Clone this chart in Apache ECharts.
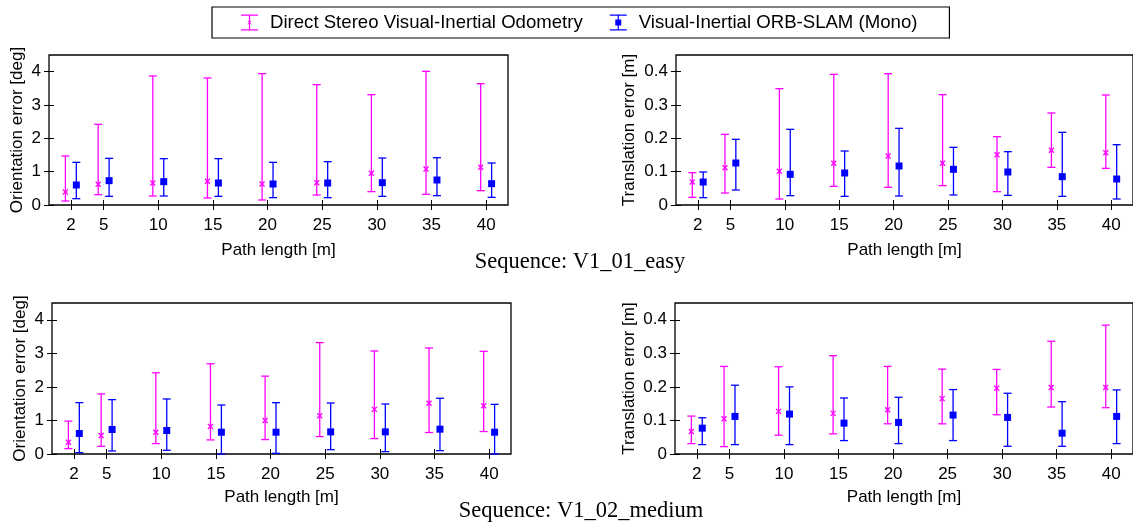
<!DOCTYPE html>
<html>
<head>
<meta charset="utf-8">
<script src="https://cdn.jsdelivr.net/npm/echarts@6/dist/echarts.min.js"></script>
<style>
  html, body { margin: 0; padding: 0; background: #fff; }
  #chart { width: 1133px; height: 522px; }
</style>
</head>
<body>
<div id="chart"></div>
<script>
// path length categories [m]
const pathLengths = [2, 5, 10, 15, 20, 25, 30, 35, 40]
const oriTicks = [0, 1, 2, 3, 4]
const transTicks = [0, 0.1, 0.2, 0.3, 0.4]

// [low, mid, high] per path length
// V1_01_easy, orientation [deg]
const oriEasyDsvio = [[0.12, 0.39, 1.47], [0.31, 0.62, 2.42], [0.27, 0.66, 3.87], [0.21, 0.71, 3.81], [0.15, 0.63, 3.94], [0.30, 0.67, 3.61], [0.40, 0.95, 3.31], [0.32, 1.08, 4.01], [0.43, 1.13, 3.64]]
const oriEasyOrb = [[0.19, 0.60, 1.28], [0.26, 0.73, 1.40], [0.27, 0.70, 1.39], [0.26, 0.66, 1.39], [0.22, 0.63, 1.28], [0.22, 0.66, 1.30], [0.26, 0.67, 1.41], [0.28, 0.75, 1.42], [0.23, 0.64, 1.26]]
// V1_01_easy, translation [m]
const transEasyDsvio = [[0.023, 0.069, 0.097], [0.036, 0.112, 0.212], [0.018, 0.101, 0.349], [0.056, 0.125, 0.392], [0.053, 0.147, 0.394], [0.058, 0.125, 0.331], [0.040, 0.151, 0.205], [0.113, 0.164, 0.276], [0.110, 0.157, 0.330]]
const transEasyOrb = [[0.022, 0.069, 0.099], [0.045, 0.126, 0.197], [0.028, 0.092, 0.227], [0.026, 0.096, 0.162], [0.027, 0.117, 0.230], [0.030, 0.107, 0.173], [0.029, 0.099, 0.160], [0.026, 0.085, 0.218], [0.018, 0.078, 0.181]]
// V1_02_medium, orientation [deg]
const oriMedDsvio = [[0.16, 0.35, 0.98], [0.23, 0.55, 1.79], [0.31, 0.65, 2.42], [0.42, 0.82, 2.69], [0.43, 1.00, 2.32], [0.52, 1.14, 3.32], [0.46, 1.33, 3.07], [0.64, 1.51, 3.16], [0.67, 1.44, 3.06]]
const oriMedOrb = [[0.04, 0.61, 1.53], [0.09, 0.73, 1.62], [0.11, 0.70, 1.64], [0.0, 0.65, 1.46], [0.02, 0.65, 1.53], [0.13, 0.66, 1.52], [0.07, 0.66, 1.49], [0.10, 0.74, 1.66], [0.0, 0.65, 1.48]]
// V1_02_medium, translation [m]
const transMedDsvio = [[0.031, 0.067, 0.113], [0.022, 0.105, 0.261], [0.056, 0.127, 0.260], [0.060, 0.121, 0.293], [0.090, 0.132, 0.261], [0.090, 0.165, 0.253], [0.117, 0.196, 0.252], [0.140, 0.198, 0.336], [0.138, 0.198, 0.384]]
const transMedOrb = [[0.028, 0.077, 0.108], [0.028, 0.112, 0.205], [0.028, 0.119, 0.200], [0.040, 0.092, 0.167], [0.031, 0.094, 0.169], [0.040, 0.116, 0.192], [0.023, 0.109, 0.181], [0.023, 0.062, 0.156], [0.031, 0.112, 0.191]]

const nameDsvio = 'Direct Stereo Visual-Inertial Odometry'
const nameOrb = 'Visual-Inertial ORB-SLAM (Mono)'
const magenta = '#ff00ff'
const blue = '#0000ff'
const sans = 'Liberation Sans, Arial, sans-serif'

// 四个子图的位置
const grids = [
  { left: 49, top: 55, width: 459, height: 150 },
  { left: 676, top: 55, width: 458, height: 150 },
  { left: 52, top: 303, width: 459, height: 151 },
  { left: 675, top: 303, width: 459, height: 151 }
]
const yNames = ['Orientation error [deg]', 'Translation error [m]', 'Orientation error [deg]', 'Translation error [m]']
const yNameGaps = [23, 38, 23, 37]
const yMax = [4.5, 0.45, 4.5, 0.45]
const yTickSets = [oriTicks, transTicks, oriTicks, transTicks]
const panels = [
  [oriEasyDsvio, oriEasyOrb],
  [transEasyDsvio, transEasyOrb],
  [oriMedDsvio, oriMedOrb],
  [transMedDsvio, transMedOrb]
]

function toRows(triples) {
  return triples.map((t, i) => [pathLengths[i], t[0], t[1], t[2]])
}

// 误差棒
function errorBar(offset, marker, color) {
  return function (params, api) {
    const x = api.value(0) + offset
    const lo = api.coord([x, api.value(1)])
    const mid = api.coord([x, api.value(2)])
    const hi = api.coord([x, api.value(3)])
    const w = 4
    const ls = { stroke: color, lineWidth: 1.3 }
    const children = [
      { type: 'line', shape: { x1: lo[0], y1: lo[1], x2: hi[0], y2: hi[1] }, style: ls },
      { type: 'line', shape: { x1: lo[0] - w, y1: lo[1], x2: lo[0] + w, y2: lo[1] }, style: ls },
      { type: 'line', shape: { x1: hi[0] - w, y1: hi[1], x2: hi[0] + w, y2: hi[1] }, style: ls }
    ]
    if (marker === 'square') {
      children.push({ type: 'rect', shape: { x: mid[0] - 3.5, y: mid[1] - 3.5, width: 7, height: 7 }, style: { fill: color } })
    } else {
      const s = 2.5
      children.push({ type: 'line', shape: { x1: mid[0] - s, y1: mid[1] - s, x2: mid[0] + s, y2: mid[1] + s }, style: ls })
      children.push({ type: 'line', shape: { x1: mid[0] - s, y1: mid[1] + s, x2: mid[0] + s, y2: mid[1] - s }, style: ls })
    }
    return { type: 'group', children: children }
  }
}

const tickStyle = { show: true, inside: true, length: 5, lineStyle: { color: '#000', width: 1 } }

const xAxes = []
const yAxes = []
const series = []
grids.forEach((g, i) => {
  xAxes.push({
    type: 'value', gridIndex: i, min: 0, max: 42, position: 'bottom',
    name: 'Path length [m]', nameLocation: 'middle', nameGap: i < 2 ? 37 : 35,
    nameTextStyle: { fontFamily: sans, fontSize: 17, color: '#000' },
    axisLine: { show: false },
    axisTick: Object.assign({ customValues: pathLengths }, tickStyle),
    axisLabel: { customValues: pathLengths, fontFamily: sans, fontSize: 17, color: '#000', margin: 12 },
    splitLine: { show: false }
  })
  yAxes.push({
    type: 'value', gridIndex: i, min: 0, max: yMax[i], position: 'left',
    name: yNames[i], nameLocation: 'middle', nameGap: yNameGaps[i],
    nameTextStyle: { fontFamily: sans, fontSize: 17, color: '#000' },
    axisLine: { show: false },
    axisTick: Object.assign({ customValues: yTickSets[i] }, tickStyle),
    axisLabel: { customValues: yTickSets[i], fontFamily: sans, fontSize: 17, color: '#000', margin: 8 },
    splitLine: { show: false }
  })
})
// 上边和右边的镜像刻度
grids.forEach((g, i) => {
  xAxes.push({
    type: 'value', gridIndex: i, min: 0, max: 42, position: 'top',
    axisLine: { show: false }, axisLabel: { show: false }, splitLine: { show: false },
    axisTick: Object.assign({ customValues: pathLengths }, tickStyle)
  })
  yAxes.push({
    type: 'value', gridIndex: i, min: 0, max: yMax[i], position: 'right',
    axisLine: { show: false }, axisLabel: { show: false }, splitLine: { show: false },
    axisTick: Object.assign({ customValues: yTickSets[i] }, tickStyle)
  })
})
panels.forEach((p, i) => {
  series.push({
    name: nameDsvio, type: 'custom', xAxisIndex: i, yAxisIndex: i, clip: false,
    itemStyle: { color: magenta },
    renderItem: errorBar(-0.5, 'x', magenta),
    data: toRows(p[0])
  })
  series.push({
    name: nameOrb, type: 'custom', xAxisIndex: i, yAxisIndex: i, clip: false,
    itemStyle: { color: blue },
    renderItem: errorBar(0.5, 'square', blue),
    data: toRows(p[1])
  })
})

const iconDsvio = 'path://M0,0H17V1.3H0Z M7.9,0H9.1V16H7.9Z M0,14.7H17V16H0Z M6.3,6.3L7.2,6.3L8.5,7.6L9.8,6.3L10.7,6.3L9,8L10.7,9.7L9.8,9.7L8.5,8.4L7.2,9.7L6.3,9.7L8,8Z'
const iconOrb = 'path://M0,0H17V1.3H0Z M7.9,0H9.1V16H7.9Z M0,14.7H17V16H0Z M5.5,5H11.5V11H5.5Z'

const option = {
  animation: false,
  backgroundColor: '#fff',
  grid: grids.map(g => Object.assign({ show: true, borderColor: '#000', borderWidth: 1.3, backgroundColor: 'transparent' }, g)),
  legend: {
    left: 212, top: 7,
    padding: [6, 32, 6, 29],
    borderColor: '#000', borderWidth: 1.2,
    itemWidth: 17, itemHeight: 16, itemGap: 27,
    textStyle: { fontFamily: sans, fontSize: 18.6, color: '#000', padding: [0, 0, 0, 7] },
    data: [
      { name: nameDsvio, icon: iconDsvio },
      { name: nameOrb, icon: iconOrb }
    ]
  },
  graphic: [
    { type: 'text', x: 580, y: 262, style: { text: 'Sequence: V1_01_easy', font: '22.5px "Liberation Serif", "Times New Roman", serif', fill: '#000', textAlign: 'center', textVerticalAlign: 'middle' } },
    { type: 'text', x: 581, y: 511, style: { text: 'Sequence: V1_02_medium', font: '22.5px "Liberation Serif", "Times New Roman", serif', fill: '#000', textAlign: 'center', textVerticalAlign: 'middle' } }
  ],
  xAxis: xAxes,
  yAxis: yAxes,
  series: series
}

const myChart = echarts.init(document.getElementById('chart'))
myChart.setOption(option)
</script>
</body>
</html>
